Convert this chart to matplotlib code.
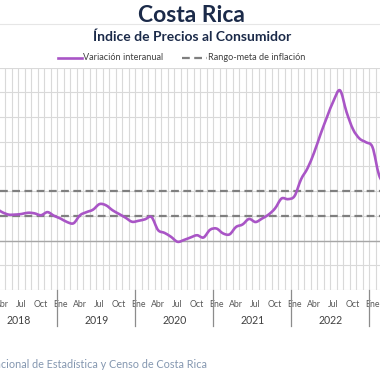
import numpy as np
import matplotlib
matplotlib.use('Agg')
import matplotlib.pyplot as plt
from matplotlib.path import Path
from matplotlib.patches import PathPatch
from matplotlib.lines import Line2D
import matplotlib.transforms as mtransforms

# monthly year-on-year CPI variation (%), Jan 2018 .. Mar 2023
years = ["2018", "2019", "2020", "2021", "2022"]
months = ["Ene", "Feb", "Mar", "Abr", "May", "Jun", "Jul", "Ago", "Sep", "Oct", "Nov", "Dic"]
var_2018 = [2.6, 2.5, 2.6, 2.3, 2.1, 2.1, 2.15, 2.25, 2.2, 2.05, 2.3, 2.0]
var_2019 = [1.78, 1.5, 1.4, 2.05, 2.3, 2.5, 2.95, 2.85, 2.45, 2.15, 1.85, 1.52]
var_2020 = [1.6, 1.72, 1.9, 0.85, 0.62, 0.3, -0.1, 0.05, 0.25, 0.43, 0.25, 0.87]
var_2021 = [0.97, 0.58, 0.5, 1.1, 1.3, 1.75, 1.5, 1.78, 2.1, 2.6, 3.4, 3.35]
var_2022 = [3.6, 4.95, 5.85, 7.1, 8.6, 10.0, 11.3, 12.15, 10.4, 9.0, 8.25, 7.95]
var_2023 = [7.55, 5.3, 4.4]
meta_low = 2.0
meta_high = 4.0

PURPLE = '#A955C6'
NAVY = '#1B2A49'

values = var_2018 + var_2019 + var_2020 + var_2021 + var_2022 + var_2023
x = np.arange(len(values))

fig = plt.figure(figsize=(3.8, 3.8), dpi=100)
ax = fig.add_axes([0, (380 - 290) / 380, 1, (290 - 67.5) / 380])

# smoothed line (Catmull-Rom as cubic beziers)
pts = np.column_stack([x, values])
verts = [pts[0]]
codes = [Path.MOVETO]
for i in range(len(pts) - 1):
    p0 = pts[max(i - 1, 0)]
    p1 = pts[i]
    p2 = pts[i + 1]
    p3 = pts[min(i + 2, len(pts) - 1)]
    verts += [p1 + (p2 - p0) / 6, p2 - (p3 - p1) / 6, p2]
    codes += [Path.CURVE4] * 3
ax.add_patch(PathPatch(Path(verts, codes), fill=False, edgecolor=PURPLE, lw=1.9,
                       zorder=5, capstyle='round', joinstyle='round'))

ax.axhline(meta_high, color='#7F7F7F', lw=1.6, ls=(0, (3.5, 2)), zorder=4)
ax.axhline(meta_low, color='#7F7F7F', lw=1.6, ls=(0, (3.5, 2)), zorder=4)
ax.axhline(0, color='#A6A6A6', lw=1.0, zorder=3)

ax.set_yticks(np.arange(-4, 15, 2))
ax.set_xticks(np.arange(-0.5, len(values), 1), minor=True)
ax.grid(True, which='minor', axis='x', color='#D9D9D9', lw=0.8)
ax.grid(True, which='major', axis='y', color='#D9D9D9', lw=0.8)
ax.tick_params(axis='y', left=False, labelleft=False)
ax.tick_params(axis='x', which='both', bottom=False, length=0)
for s in ax.spines.values():
    s.set_visible(False)

# month labels (every quarter)
lab_pos = [i for i in x if i % 3 == 0]
ax.set_xticks(lab_pos)
ax.set_xticklabels([months[i % 12] for i in lab_pos], fontsize=6.3, color='#595959',
                   family='Lato')
ax.tick_params(axis='x', which='major', pad=7)

# chart is cropped on both sides, as in the reference
ax.set_xlim(2.685, 61.15)
ax.set_ylim(-4, 14)

trans = mtransforms.blended_transform_factory(ax.transData, fig.transFigure)
for k in range(len(years) + 1):
    xb = 12 * k - 0.5
    fig.add_artist(Line2D([xb, xb], [(380 - 290) / 380, (380 - 326) / 380],
                          transform=trans, color='#8C8C8C', lw=0.9))
for k, yr in enumerate(years):
    fig.text(12 * k + 5.5, (380 - 320) / 380, yr, transform=trans, ha='center',
             va='center', fontsize=7.6, color='#404040', family='Lato')

# titles
fig.text(0.505, 1 - 15 / 380, "Costa Rica", ha='center', va='center', fontsize=16.5,
         fontweight='bold', color=NAVY, family='Lato')
fig.add_artist(Line2D([0, 1], [1 - 24 / 380, 1 - 24 / 380], transform=fig.transFigure,
                      color='#E6E6E6', lw=0.8))
fig.text(0.505, 1 - 37 / 380, "Índice de Precios al Consumidor", ha='center', va='center',
         fontsize=10, fontweight='bold', color=NAVY, family='Lato')

# legend
ly = 1 - 58 / 380
fig.add_artist(Line2D([58 / 380, 82 / 380], [ly, ly], transform=fig.transFigure,
                      color=PURPLE, lw=1.9))
fig.text(83 / 380, ly, "Variación interanual", ha='left', va='center', fontsize=6.6,
         color='#404040', family='Lato')
fig.add_artist(Line2D([182 / 380, 207 / 380], [ly, ly], transform=fig.transFigure,
                      color='#7F7F7F', lw=1.6, ls=(0, (3.5, 2))))
fig.text(208 / 380, ly, "Rango-meta de inflación", ha='left', va='center', fontsize=6.6,
         color='#404040', family='Lato')

# source
fig.text(207 / 380, 1 - 364 / 380, "Fuente: Instituto Nacional de Estadística y Censo de Costa Rica",
         ha='right', va='center', fontsize=7.8, color='#8497B0', family='Lato')

fig.savefig('out.png', dpi=100)
